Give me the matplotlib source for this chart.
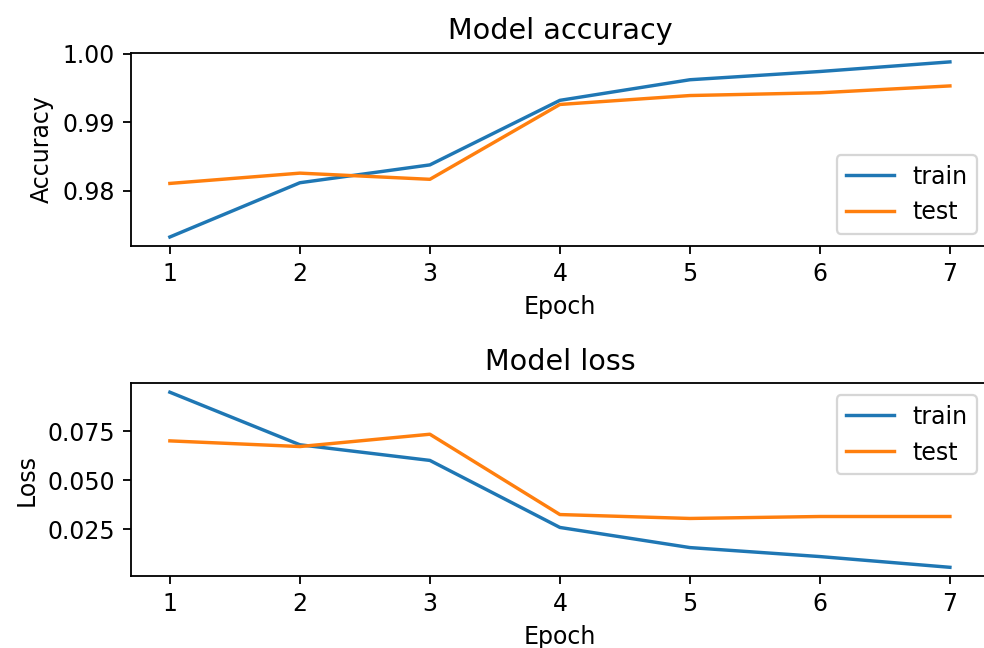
import matplotlib
matplotlib.use('Agg')
import matplotlib.pyplot as plt

# ========================================
# Data
# ========================================
epochs = [1, 2, 3, 4, 5, 6, 7]

train_acc = [0.9733, 0.9812, 0.9838, 0.9932, 0.9962, 0.9974, 0.9988]
test_acc = [0.9811, 0.9826, 0.9817, 0.9926, 0.9939, 0.9943, 0.9953]

train_loss = [0.0951, 0.0682, 0.0602, 0.0259, 0.0156, 0.0110, 0.0055]
test_loss = [0.0702, 0.0673, 0.0736, 0.0325, 0.0305, 0.0315, 0.0315]

# slightly larger text than the defaults
plt.rcParams['font.size'] = 10.4
plt.rcParams['axes.titlesize'] = 12.6

# ========================================
# Figure
# ========================================
fig = plt.figure(figsize=(6.0, 648 / 164), dpi=164)

# Accuracy
plt.subplot(2, 1, 1)
plt.plot(epochs, train_acc)
plt.plot(epochs, test_acc)
plt.title('Model accuracy')
plt.ylabel('Accuracy')
plt.xlabel('Epoch')
plt.yticks([0.98, 0.99, 1.00])
plt.legend(['train', 'test'], loc='lower right')

# Loss
plt.subplot(2, 1, 2)
plt.plot(epochs, train_loss)
plt.plot(epochs, test_loss)
plt.title('Model loss')
plt.ylabel('Loss')
plt.xlabel('Epoch')
plt.yticks([0.025, 0.050, 0.075])
plt.legend(['train', 'test'], loc='upper right')

plt.subplots_adjust(left=0.133, right=1.005, top=0.918, bottom=0.111, hspace=0.715)
plt.savefig('out.png', dpi=164)
